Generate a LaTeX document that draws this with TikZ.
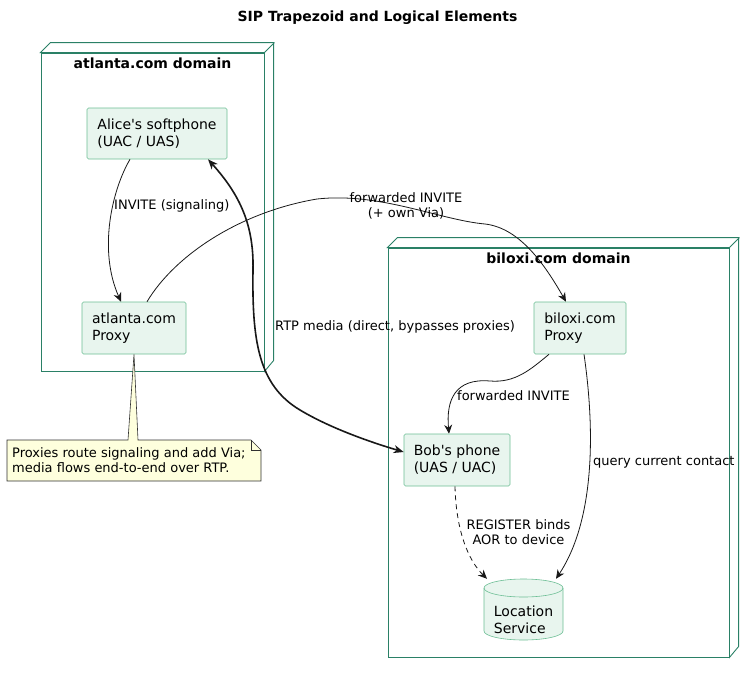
\documentclass[tikz,border=0pt]{standalone}
\usepackage{fontspec}
\setmainfont{DejaVu Sans}[Ligatures=TeXOff]
\usetikzlibrary{arrows.meta,calc}
\definecolor{boxfill}{HTML}{E8F5EE}
\definecolor{boxline}{HTML}{6DBF95}
\definecolor{domline}{HTML}{2A8066}
\definecolor{notefill}{HTML}{FEFFDD}
\definecolor{noteline}{HTML}{303030}
\definecolor{edgecol}{HTML}{181818}
\begin{document}
\begin{tikzpicture}[x=1pt,y=-1pt,
  comp/.style={draw=boxline, fill=boxfill, rounded corners=1.5pt, line width=0.6pt, align=left,
    font=\fontsize{14}{17}\selectfont, inner sep=0pt},
  domainbox/.style={draw=domline, fill=white, line width=0.9pt, inner sep=0pt},
  domextra/.style={draw=domline, fill=white, line width=0.9pt, line join=miter},
  domtitle/.style={font=\bfseries\fontsize{14}{17}\selectfont, inner sep=0pt},
  elabel/.style={font=\fontsize{13}{15}\selectfont, inner sep=0pt, align=center, text=black},
  arr/.style={draw=edgecol, line width=0.8pt, -{Stealth[length=9pt,width=8pt,inset=3pt]}},
  rtp/.style={draw=edgecol, line width=1.6pt, {Stealth[length=10pt,width=8pt,inset=3pt]}-{Stealth[length=10pt,width=8pt,inset=3pt]}},
  dasharr/.style={arr, dash pattern=on 5pt off 4pt},
]
\useasboundingbox (0,0) rectangle (755,673);

% title
\node[domtitle] (title) at (377.5,18) {SIP Trapezoid and Logical Elements};

% atlanta domain
\node[domainbox, minimum width=223pt, minimum height=318pt] (atl) at (152.5,212) {};
\draw[domextra] (atl.north west) -- ++(10,-10) -- ++(223,0) -- ++(0,318) -- (atl.south east) -- (atl.north east) -- cycle;
\draw[domline, line width=0.9pt] (atl.north east) -- ++(10,-10);
\node[domtitle] (atltitle) at ($(atl.north)+(0,11)$) {atlanta.com domain};

% biloxi domain
\node[domainbox, minimum width=341pt, minimum height=409pt] (bil) at (558.5,452.5) {};
\draw[domextra] (bil.north west) -- ++(10,-10) -- ++(341,0) -- ++(0,409) -- (bil.south east) -- (bil.north east) -- cycle;
\draw[domline, line width=0.9pt] (bil.north east) -- ++(10,-10);
\node[domtitle] (biltitle) at ($(bil.north)+(0,11)$) {biloxi.com domain};

% components
\node[comp, minimum width=140pt, minimum height=51pt] (alice) at (157,133.5) {Alice's softphone\\(UAC / UAS)};
\node[comp, minimum width=104pt, minimum height=52pt] (aproxy) at (134,328) {atlanta.com\\Proxy};
\node[comp, minimum width=92pt, minimum height=52pt] (bproxy) at (580,328) {biloxi.com\\Proxy};
\node[comp, minimum width=106pt, minimum height=52pt] (bob) at (457,460) {Bob's phone\\(UAS / UAC)};

% location service cylinder
\path[fill=boxfill, draw=boxline, line width=0.6pt] (484,588) -- (484,631)
  arc[start angle=180, end angle=360, x radius=39.5pt, y radius=9pt] -- (563,588)
  arc[start angle=0, end angle=180, x radius=39.5pt, y radius=9pt] -- cycle;
\draw[boxline, line width=0.6pt] (484,588) arc[start angle=180, end angle=360, x radius=39.5pt, y radius=9pt];
\node[inner sep=0pt, minimum width=79pt, minimum height=61pt] (loc) at (523.5,609.5) {};
\node[comp, draw=none, fill=none] (loctext) at (523.5,619.5) {Location\\Service};

% note
\draw[fill=notefill, draw=noteline, line width=0.6pt, line join=miter]
  (7,440) -- (128,440) -- (aproxy.south) -- (138,440) -- (251,440) -- (261,450) -- (261,481) -- (7,481) -- cycle;
\draw[noteline, line width=0.6pt] (251,440) -- (251,450) -- (261,450);
\node[elabel, align=left, anchor=west] (note) at (12,460.5) {Proxies route signaling and add Via;\\media flows end-to-end over RTP.};

% edges
\draw[arr] ([xshift=-27pt]alice.south) .. controls (112,190) and (98,250) .. ([xshift=-13pt]aproxy.north);
\node[elabel, anchor=west] (l1) at (114,206) {INVITE (signaling)};

\draw[arr] ([xshift=13pt]aproxy.north) .. controls (175,255) and (240,212) .. (317,199)
  .. controls (380,192) and (440,220) .. (485,224)
  .. controls (520,228) and (545,265) .. ([xshift=-14pt]bproxy.north);
\node[elabel] (l2) at (406,205.5) {forwarded INVITE\\(+ own Via)};

\draw[rtp] ([xshift=51pt]alice.south) .. controls (240,195) and (254,225) .. (253,270)
  .. controls (252,340) and (258,385) .. (300,410)
  .. controls (330,428) and (370,442) .. ([yshift=8pt]bob.west);
\node[elabel, anchor=west] (l3) at (275,327) {RTP media (direct, bypasses proxies)};

\draw[arr] ([xshift=-31pt]bproxy.south) .. controls (530,370) and (515,383) .. (490,381)
  .. controls (455,378) and (446,400) .. ([xshift=-8pt]bob.north);
\node[elabel, anchor=west] (l4) at (457,396) {forwarded INVITE};

\draw[arr] ([xshift=4pt]bproxy.south) .. controls (595,430) and (595,520) .. ([xshift=32.5pt]loc.north);
\node[elabel, anchor=west] (l5) at (593,462) {query current contact};

\draw[dasharr] ([xshift=-2pt]bob.south) .. controls (456,530) and (468,560) .. ([xshift=-36.5pt]loc.north);
\node[elabel] (l6) at (518.5,532.5) {REGISTER binds\\AOR to device};
\end{tikzpicture}
\end{document}
